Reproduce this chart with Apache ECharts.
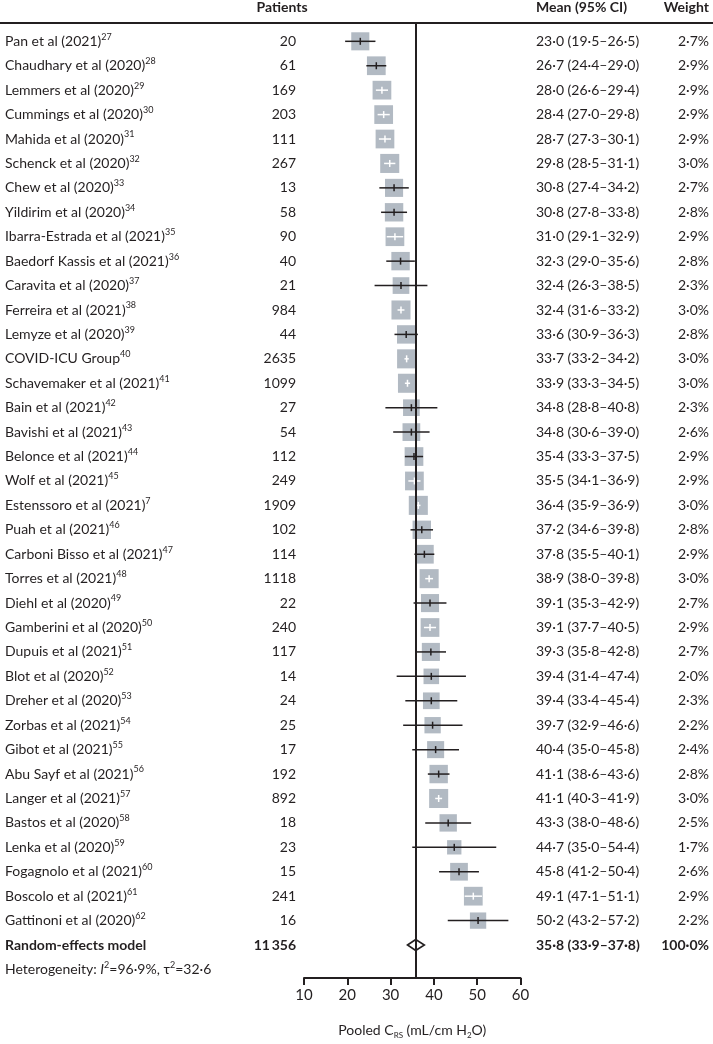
<!DOCTYPE html>
<html><head><meta charset="utf-8">
<script src="https://cdn.jsdelivr.net/npm/echarts@6/dist/echarts.min.js"></script>
<style>html,body{margin:0;padding:0;background:#fff}#c{width:713px;height:1044px}</style>
</head><body><div id="c"></div>
<script>
// ---------- data ----------
const studies = ["Pan et al (2021)","Chaudhary et al (2020)","Lemmers et al (2020)","Cummings et al (2020)","Mahida et al (2020)","Schenck et al (2020)","Chew et al (2020)","Yildirim et al (2020)","Ibarra-Estrada et al (2021)","Baedorf Kassis et al (2021)","Caravita et al (2020)","Ferreira et al (2021)","Lemyze et al (2020)","COVID-ICU Group","Schavemaker et al (2021)","Bain et al (2021)","Bavishi et al (2021)","Belonce et al (2021)","Wolf et al (2021)","Estenssoro et al (2021)","Puah et al (2021)","Carboni Bisso et al (2021)","Torres et al (2021)","Diehl et al (2020)","Gamberini et al (2020)","Dupuis et al (2021)","Blot et al (2020)","Dreher et al (2020)","Zorbas et al (2021)","Gibot et al (2021)","Abu Sayf et al (2021)","Langer et al (2021)","Bastos et al (2020)","Lenka et al (2020)","Fogagnolo et al (2021)","Boscolo et al (2021)","Gattinoni et al (2020)"];
const refs = ["27","28","29","30","31","32","33","34","35","36","37","38","39","40","41","42","43","44","45","7","46","47","48","49","50","51","52","53","54","55","56","57","58","59","60","61","62"];
const patients = [20,61,169,203,111,267,13,58,90,40,21,984,44,2635,1099,27,54,112,249,1909,102,114,1118,22,240,117,14,24,25,17,192,892,18,23,15,241,16];
const means = [23.0,26.7,28.0,28.4,28.7,29.8,30.8,30.8,31.0,32.3,32.4,32.4,33.6,33.7,33.9,34.8,34.8,35.4,35.5,36.4,37.2,37.8,38.9,39.1,39.1,39.3,39.4,39.4,39.7,40.4,41.1,41.1,43.3,44.7,45.8,49.1,50.2];
const lows = [19.5,24.4,26.6,27.0,27.3,28.5,27.4,27.8,29.1,29.0,26.3,31.6,30.9,33.2,33.3,28.8,30.6,33.3,34.1,35.9,34.6,35.5,38.0,35.3,37.7,35.8,31.4,33.4,32.9,35.0,38.6,40.3,38.0,35.0,41.2,47.1,43.2];
const highs = [26.5,29.0,29.4,29.8,30.1,31.1,34.2,33.8,32.9,35.6,38.5,33.2,36.3,34.2,34.5,40.8,39.0,37.5,36.9,36.9,39.8,40.1,39.8,42.9,40.5,42.8,47.4,45.4,46.6,45.8,43.6,41.9,48.6,54.4,50.4,51.1,57.2];
const weights = [2.7,2.9,2.9,2.9,2.9,3.0,2.7,2.8,2.9,2.8,2.3,3.0,2.8,3.0,3.0,2.3,2.6,2.9,2.9,3.0,2.8,2.9,3.0,2.7,2.9,2.7,2.0,2.3,2.2,2.4,2.8,3.0,2.5,1.7,2.6,2.9,2.2];
const pooledLabel = "Random-effects model";
const pooledPatients = 11356;
const pooledMean = 35.8, pooledLow = 33.9, pooledHigh = 37.8, pooledWeight = 100.0;
const hetI2 = 96.9, hetTau2 = 32.6;
const headers = ["Patients","Mean (95% CI)","Weight"];
const xMin = 10, xMax = 60, xStep = 10;

// ---------- style ----------
const ink = '#231f20';
const box = '#b2bac3';
const FONT = 'Lato, "Open Sans", sans-serif';
const dot = v => v.toFixed(1).replace('.', '\u00b7');
const thin = n => n >= 10000 ? String(n).replace(/\B(?=(\d{3})+(?!\d))/g, '\u2009') : String(n);
const nStudy = studies.length;
const rowRE = nStudy, rowHet = nStudy + 1;

const supRich = {
  sup: {fontSize: 9, fontFamily: FONT, fill: ink, color: ink, verticalAlign: 'top', lineHeight: 9},
  b: {fontSize: 14, fontFamily: FONT, fontWeight: 'bold', fill: ink, color: ink, lineHeight: 18},
  i: {fontSize: 14, fontFamily: FONT, fontStyle: 'italic', fill: ink, color: ink, lineHeight: 18}
};

const studyData = means.map((m, i) => [m, i, lows[i], highs[i], weights[i]]);
const textRows = studies.map((s, i) => [xMin, i]);
textRows.push([xMin, rowRE]);
textRows.push([xMin, rowHet]);

function txt(x, y, text, align, extra) {
  return Object.assign({
    type: 'text', x: x, y: y,
    style: Object.assign({text: text, fill: ink, fontSize: 14, fontFamily: FONT, align: align, verticalAlign: 'middle', lineHeight: 18, rich: supRich}, extra || {})
  });
}

const chart = echarts.init(document.getElementById('c'), null, {renderer: 'canvas'});
chart.setOption({
  animation: false,
  backgroundColor: '#fff',
  grid: {left: 304, right: 192.5, top: 23, bottom: 50, containLabel: false},
  xAxis: {
    type: 'value', min: xMin, max: xMax, interval: xStep,
    axisLine: {show: true, onZero: false, lineStyle: {color: ink, width: 2}},
    axisTick: {show: true, length: 7, lineStyle: {color: ink, width: 2}},
    splitLine: {show: false},
    axisLabel: {color: ink, fontSize: 15, fontFamily: FONT, margin: 10},
    name: '{t|Pooled C}{s|RS}{t| (mL/cm H}{s|2}{t|O)}',
    nameLocation: 'middle', nameGap: 43,
    nameTextStyle: {rich: {
      t: {fontSize: 14, fontFamily: FONT, color: ink, lineHeight: 18},
      s: {fontSize: 8, fontFamily: FONT, color: ink, verticalAlign: 'bottom', lineHeight: 12}
    }}
  },
  yAxis: {type: 'value', inverse: true, min: -0.75, max: 38.35, show: false},
  graphic: [
    {type: 'rect', shape: {x: 0, y: 22, width: 713, height: 2}, style: {fill: ink}, z: 10},
    {type: 'text', x: 282, y: 7, style: {text: headers[0], fill: ink, fontSize: 14, fontWeight: 'bold', fontFamily: FONT, align: 'center', verticalAlign: 'middle'}},
    {type: 'text', x: 536, y: 7, style: {text: headers[1], fill: ink, fontSize: 14, fontWeight: 'bold', fontFamily: FONT, align: 'left', verticalAlign: 'middle'}},
    {type: 'text', x: 709, y: 7, style: {text: headers[2], fill: ink, fontSize: 14, fontWeight: 'bold', fontFamily: FONT, align: 'right', verticalAlign: 'middle'}}
  ],
  series: [
    {
      type: 'custom', name: 'refline', data: [[pooledMean, 0]], z: 1,
      renderItem: () => ({type: 'group', children: []}),
      markLine: {silent: true, symbol: 'none', label: {show: false},
        lineStyle: {color: ink, width: 2, type: 'solid'},
        data: [{xAxis: pooledMean}]}
    },
    {
      type: 'custom', name: 'studies', data: studyData, z: 3,
      renderItem: function (params, api) {
        const m = api.value(0), r = api.value(1), lo = api.value(2), hi = api.value(3), w = api.value(4);
        const c = api.coord([m, r]), pl = api.coord([lo, r]), ph = api.coord([hi, r]);
        const s = 11 * Math.sqrt(w), h = s / 2;
        const out = (ph[0] - pl[0]) / 2 > h - 0.5;
        const lc = out ? ink : '#ffffff';
        return {type: 'group', children: [
          {type: 'rect', shape: {x: c[0] - h, y: c[1] - h, width: s, height: s}, style: {fill: box}},
          {type: 'line', shape: {x1: pl[0], y1: c[1], x2: ph[0], y2: c[1]}, style: {stroke: lc, lineWidth: 1.5}},
          {type: 'line', shape: {x1: c[0], y1: c[1] - 3.5, x2: c[0], y2: c[1] + 3.5}, style: {stroke: lc, lineWidth: 1.5}}
        ]};
      }
    },
    {
      type: 'custom', name: 'pooled', data: [[pooledMean, rowRE, pooledLow, pooledHigh]], z: 4,
      renderItem: function (params, api) {
        const r = api.value(1);
        const c = api.coord([api.value(0), r]), pl = api.coord([api.value(2), r]), ph = api.coord([api.value(3), r]);
        return {type: 'polygon', shape: {points: [[pl[0], c[1]], [c[0], c[1] - 5.5], [ph[0], c[1]], [c[0], c[1] + 5.5]]},
          style: {fill: '#fff', stroke: ink, lineWidth: 1.6}};
      }
    },
    {
      type: 'custom', name: 'text', data: textRows, z: 5, clip: false,
      renderItem: function (params, api) {
        const r = api.value(1);
        const y = api.coord([xMin, r])[1];
        if (r < nStudy) {
          return {type: 'group', children: [
            txt(5, y, studies[r] + '{sup|' + refs[r] + '}', 'left'),
            txt(296, y, String(patients[r]), 'right'),
            txt(536, y, dot(means[r]) + ' (' + dot(lows[r]) + '\u2013' + dot(highs[r]) + ')', 'left'),
            txt(709, y, dot(weights[r]) + '%', 'right')
          ]};
        } else if (r === rowRE) {
          return {type: 'group', children: [
            txt(5, y, pooledLabel, 'left', {fontWeight: 'bold'}),
            txt(296, y, thin(pooledPatients), 'right', {fontWeight: 'bold'}),
            txt(536, y, dot(pooledMean) + ' (' + dot(pooledLow) + '\u2013' + dot(pooledHigh) + ')', 'left', {fontWeight: 'bold'}),
            txt(709, y, dot(pooledWeight) + '%', 'right', {fontWeight: 'bold'})
          ]};
        } else {
          return {type: 'group', children: [
            txt(5, y, 'Heterogeneity: {i|I}{sup|2}=' + dot(hetI2) + '%, \u03c4{sup|2}=' + dot(hetTau2), 'left')
          ]};
        }
      }
    }
  ]
});
</script></body></html>
